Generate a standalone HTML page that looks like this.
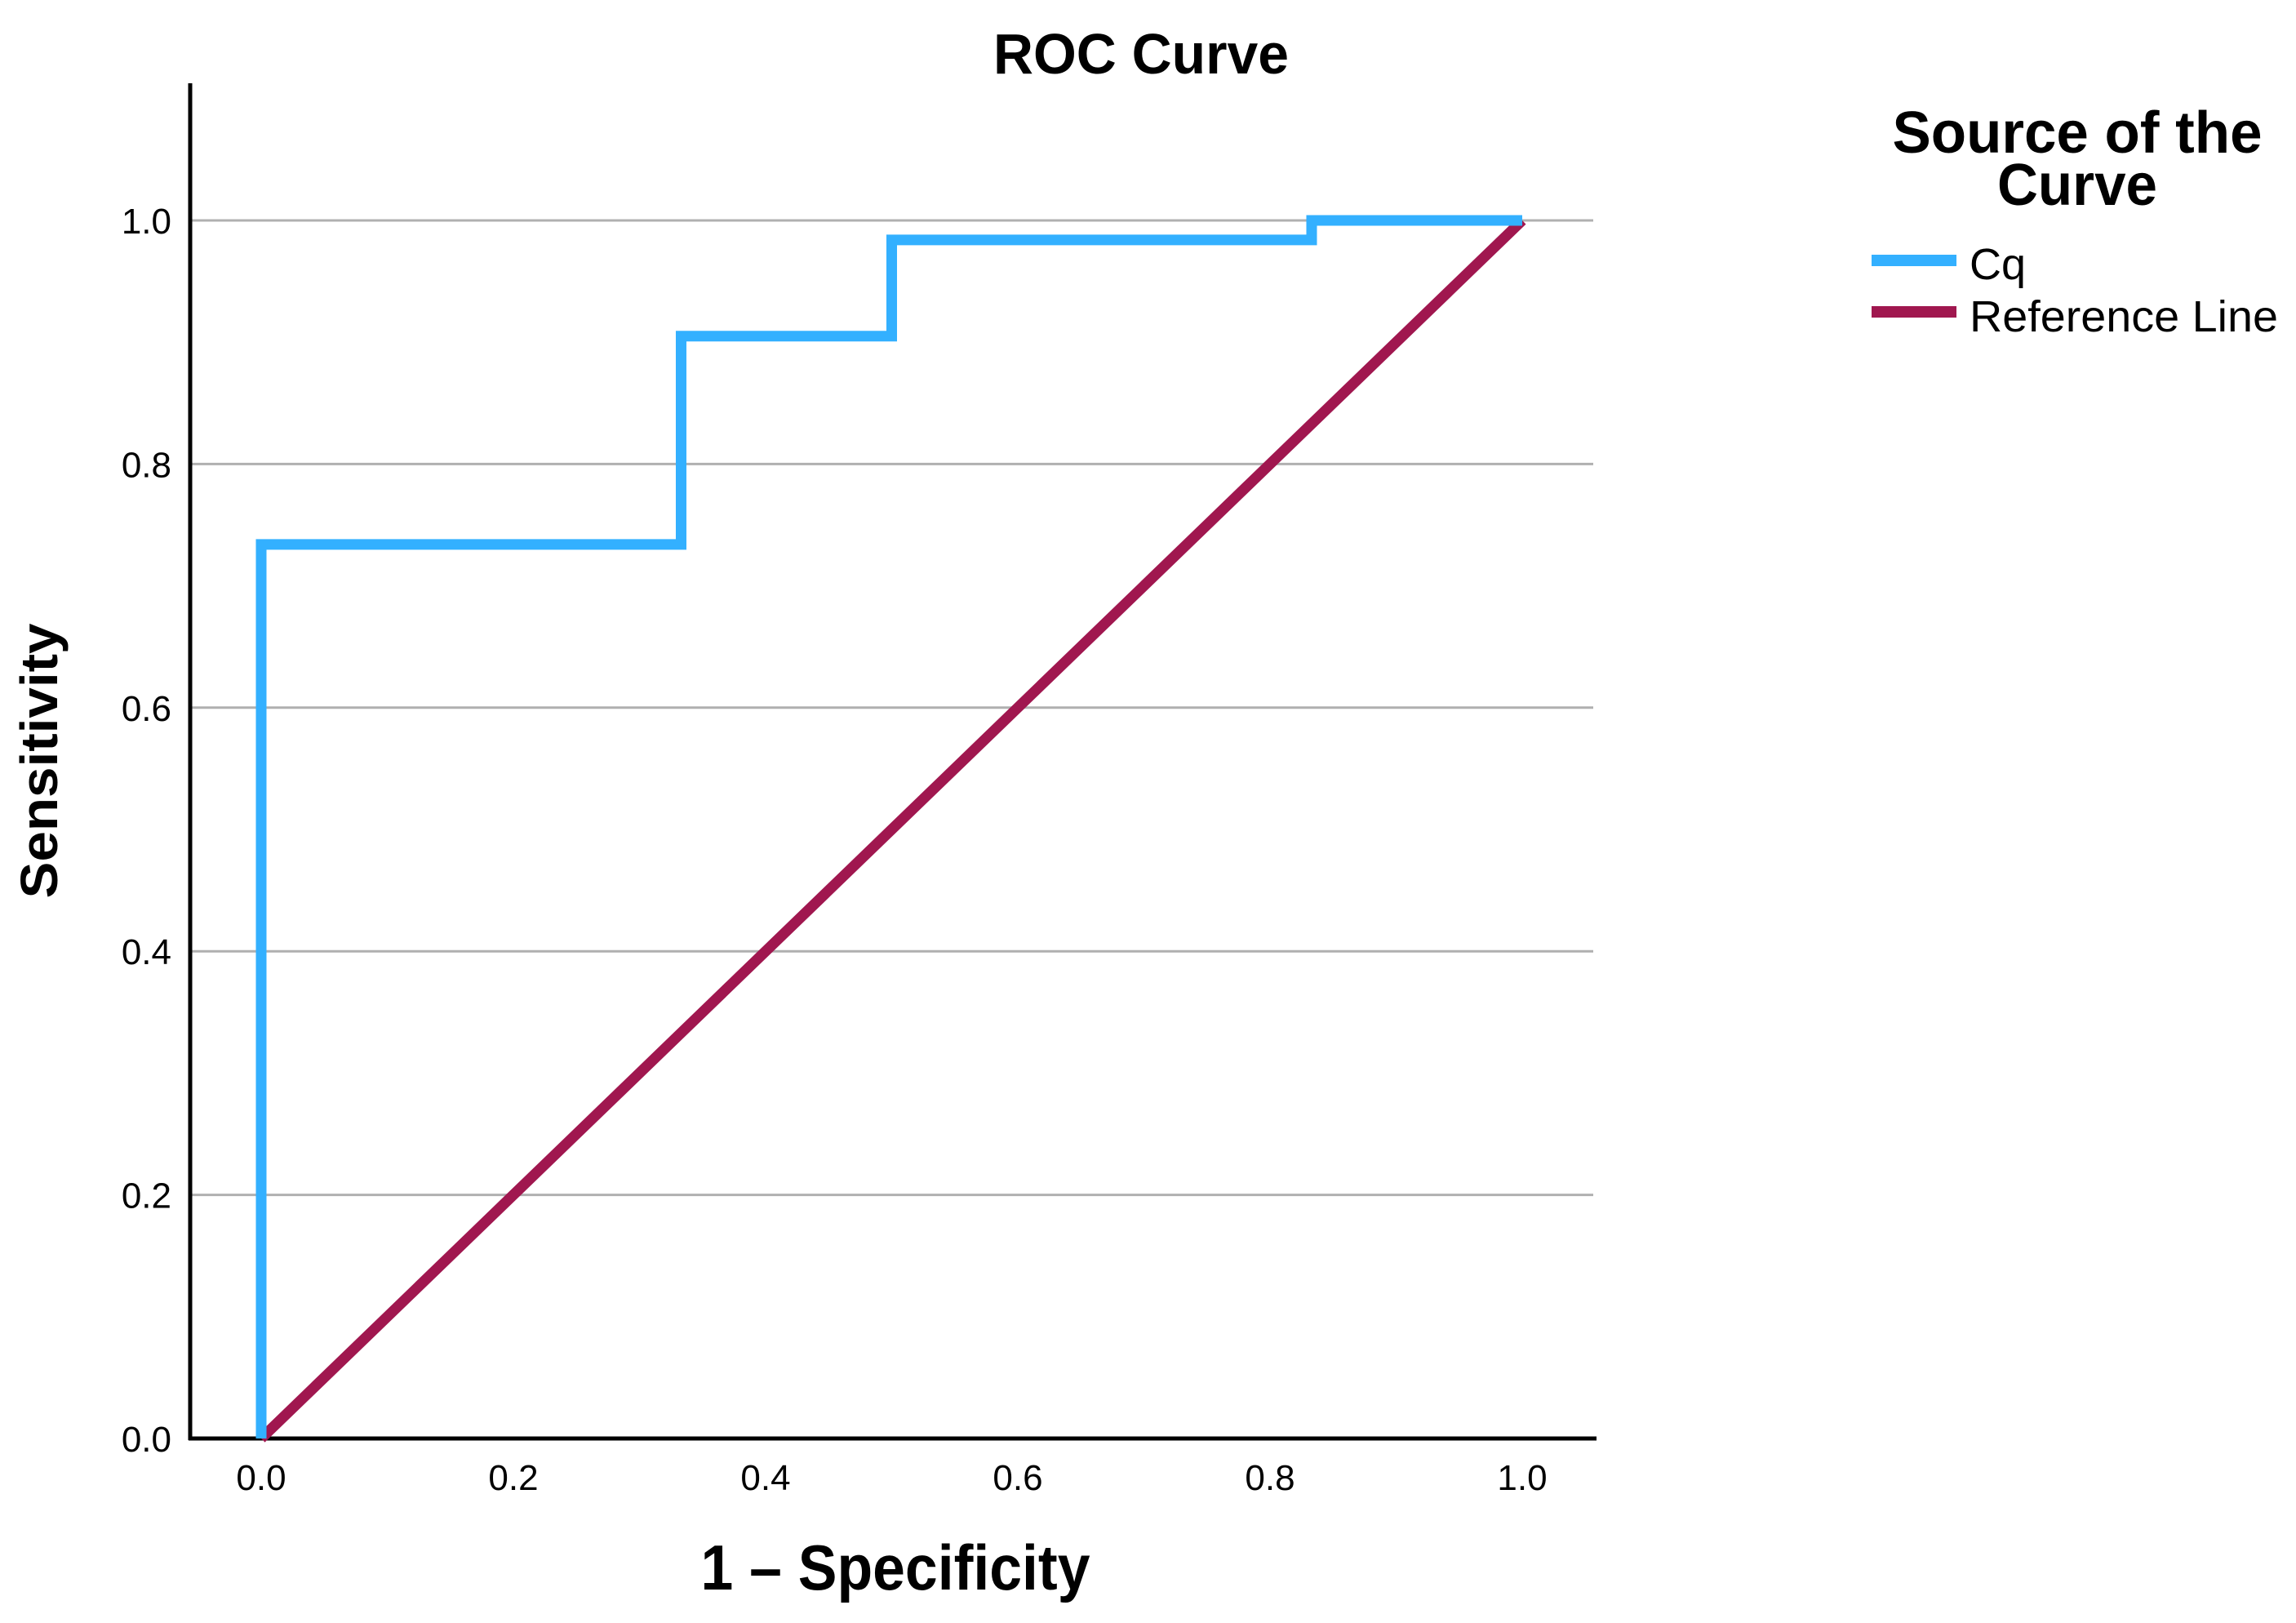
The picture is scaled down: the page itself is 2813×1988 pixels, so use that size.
<!DOCTYPE html>
<html><head><meta charset="utf-8"><style>
html,body{margin:0;padding:0;background:#fff;}
svg{display:block;}
text{font-family:"Liberation Sans",sans-serif;fill:#000;}
</style></head><body>
<svg id="chart" width="2813" height="1988" viewBox="0 0 2813 1988" xmlns="http://www.w3.org/2000/svg">
<text x="1398" y="90" font-size="70" font-weight="bold" text-anchor="middle" textLength="362" lengthAdjust="spacingAndGlyphs">ROC Curve</text>
<g id="grid"></g>
<g id="yticks"></g>
<g id="xticks"></g>
<line x1="233" y1="102" x2="233" y2="1764" stroke="#000" stroke-width="5"/>
<line x1="231" y1="1762" x2="1956" y2="1762" stroke="#000" stroke-width="5"/>
<polyline id="refline" fill="none" stroke="#a0174f" stroke-width="13"/>
<polyline id="cqline" fill="none" stroke="#33b0ff" stroke-width="13" stroke-linejoin="miter"/>
<text transform="translate(70,932) rotate(-90)" font-size="64" font-weight="bold" text-anchor="middle" textLength="337" lengthAdjust="spacingAndGlyphs">Sensitivity</text>
<text x="1097" y="1947" font-size="78" font-weight="bold" text-anchor="middle" textLength="477" lengthAdjust="spacingAndGlyphs">1 – Specificity</text>
<g>
<text x="2545" y="187" font-size="72" font-weight="bold" text-anchor="middle" textLength="453" lengthAdjust="spacingAndGlyphs">Source of the</text>
<text x="2545" y="251" font-size="72" font-weight="bold" text-anchor="middle" textLength="196" lengthAdjust="spacingAndGlyphs">Curve</text>
<line x1="2293" y1="319" x2="2397" y2="319" stroke="#33b0ff" stroke-width="14"/>
<text x="2413" y="342" font-size="54">Cq</text>
<line x1="2293" y1="382" x2="2397" y2="382" stroke="#a0174f" stroke-width="14"/>
<text x="2413" y="406" font-size="54" textLength="378" lengthAdjust="spacingAndGlyphs">Reference Line</text>
</g>
</svg>
<script>
const cqFpr = [0, 0, 0.333, 0.333, 0.5, 0.5, 0.833, 0.833, 1];
const cqTpr = [0, 0.734, 0.734, 0.905, 0.905, 0.984, 0.984, 1, 1];
const refFpr = [0, 1];
const refTpr = [0, 1];
const yTicks = [0, 0.2, 0.4, 0.6, 0.8, 1.0];
const yTickLabels = ["0.0", "0.2", "0.4", "0.6", "0.8", "1.0"];
const xTicks = [0, 0.2, 0.4, 0.6, 0.8, 1.0];
const xTickLabels = ["0.0", "0.2", "0.4", "0.6", "0.8", "1.0"];

const NS = "http://www.w3.org/2000/svg";
function xs(v){ return 320 + v * 1545; }
function ys(v){ return 1762 - v * 1492; }

const grid = document.getElementById('grid');
const yt = document.getElementById('yticks');
yTicks.forEach((t, i) => {
  if (t > 0) {
    const l = document.createElementNS(NS, 'line');
    
    
    l.setAttribute('x1', 235); l.setAttribute('x2', 1952);
    l.setAttribute('y1', ys(t)); l.setAttribute('y2', ys(t));
    l.setAttribute('stroke', '#b0b0b0'); l.setAttribute('stroke-width', '3');
    grid.appendChild(l);
  }
  const tx = document.createElementNS(NS, 'text');
  
  
  tx.setAttribute('x', 210); tx.setAttribute('y', ys(t) + 16);
  tx.setAttribute('font-size', '44'); tx.setAttribute('text-anchor', 'end');
  tx.textContent = yTickLabels[i];
  yt.appendChild(tx);
});
const xt = document.getElementById('xticks');
xTicks.forEach((t, i) => {
  const tx = document.createElementNS(NS, 'text');
  
  
  tx.setAttribute('x', xs(t)); tx.setAttribute('y', 1825);
  tx.setAttribute('font-size', '44'); tx.setAttribute('text-anchor', 'middle');
  tx.textContent = xTickLabels[i];
  xt.appendChild(tx);
});
document.getElementById('refline').setAttribute('points', refFpr.map((v,i)=>xs(v)+','+ys(refTpr[i])).join(' '));
document.getElementById('cqline').setAttribute('points', cqFpr.map((v,i)=>xs(v)+','+ys(cqTpr[i])).join(' '));
</script>
</body></html>
